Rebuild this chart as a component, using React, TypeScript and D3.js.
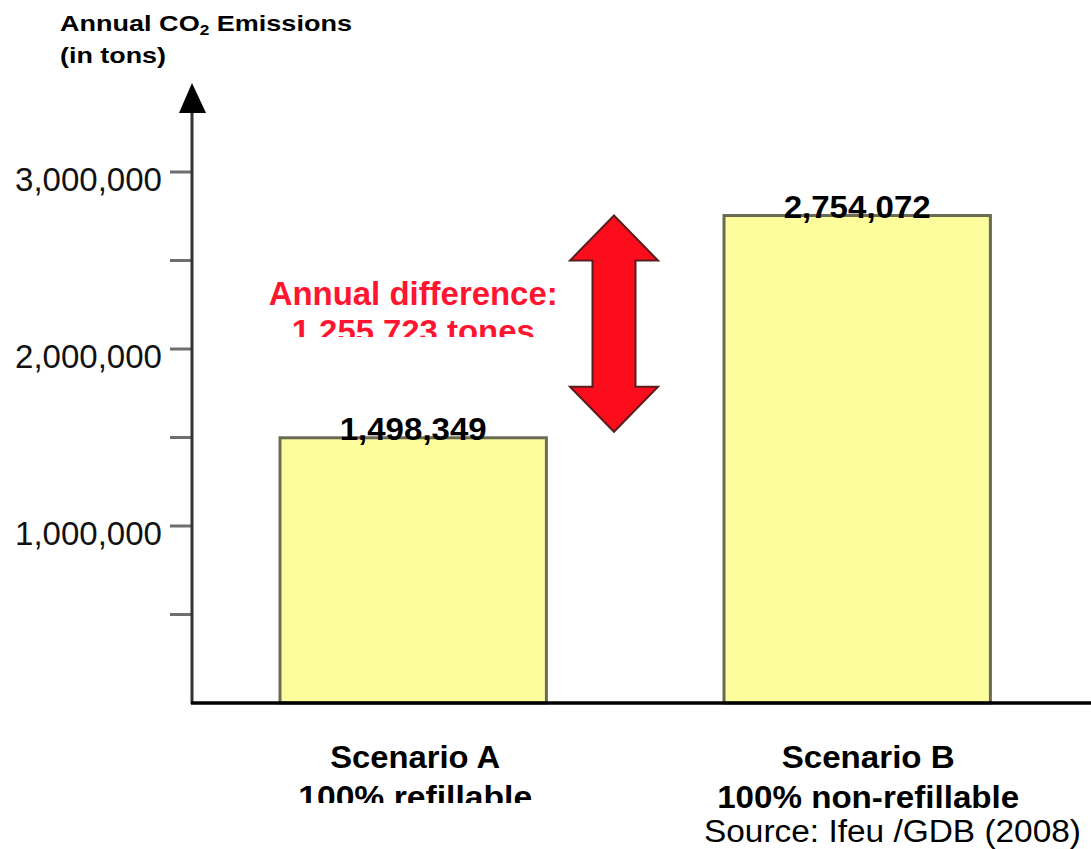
import * as d3 from "d3";
import { useEffect, useRef } from "react";

const categories = ["Scenario A", "Scenario B"];
const subtitles = ["100% refillable", "100% non-refillable"];
const values = [1498349, 2754072];
const valueLabels = ["1,498,349", "2,754,072"];
const majorTicks = [1000000, 2000000, 3000000];
const minorTicks = [500000, 1500000, 2500000];
const tickLabels = ["1,000,000", "2,000,000", "3,000,000"];
const diffLines = ["Annual difference:", "1.255.723 tones"];
const sourceText = "Source: Ifeu /GDB (2008)";

const FONT = "'Liberation Sans', Arial, Helvetica, sans-serif";

export default function App() {
  const ref = useRef<SVGSVGElement>(null);

  useEffect(() => {
    const svg = d3.select(ref.current);
    svg.selectAll("*").remove();

    const width = 1091;
    const height = 849;
    const axisX = 192;
    const baseY = 703;

    svg.attr("width", width).attr("height", height).style("font-family", FONT);

    const y = d3.scaleLinear().domain([0, 3000000]).range([baseY, 172]);
    const x = d3.scaleBand()
      .domain(categories)
      .range([235.6, 1034.8])
      .paddingInner(0.4)
      .paddingOuter(0.1);

    const defs = svg.append("defs");
    // the source image cuts off the second lines of some labels
    defs.append("clipPath").attr("id", "clip-diff")
      .append("rect").attr("x", 0).attr("y", 0).attr("width", width).attr("height", 337);
    defs.append("clipPath").attr("id", "clip-sub-a")
      .append("rect").attr("x", 0).attr("y", 0).attr("width", width).attr("height", 803);

    // title
    const title = svg.append("text")
      .attr("x", 60).attr("y", 31)
      .attr("font-size", 22).attr("font-weight", "bold")
      .attr("textLength", 292).attr("lengthAdjust", "spacingAndGlyphs");
    title.append("tspan").text("Annual CO");
    title.append("tspan").attr("font-size", 14).attr("dy", 4).text("2");
    title.append("tspan").attr("dy", -4).text(" Emissions");

    svg.append("text")
      .attr("x", 60).attr("y", 63)
      .attr("font-size", 22).attr("font-weight", "bold")
      .attr("textLength", 106).attr("lengthAdjust", "spacingAndGlyphs")
      .text("(in tons)");

    // bars
    svg.selectAll("rect.bar")
      .data(values)
      .join("rect")
      .attr("class", "bar")
      .attr("x", (d, i) => x(categories[i])!)
      .attr("y", d => y(d))
      .attr("width", x.bandwidth())
      .attr("height", d => baseY - y(d))
      .attr("fill", "#fdfd9d")
      .attr("stroke", "#6a6a55")
      .attr("stroke-width", 3);

    svg.selectAll("text.val")
      .data(values)
      .join("text")
      .attr("class", "val")
      .attr("x", (d, i) => x(categories[i])! + x.bandwidth() / 2)
      .attr("y", d => y(d) + 2)
      .attr("text-anchor", "middle")
      .attr("font-size", 32).attr("font-weight", "bold")
      .attr("textLength", 147).attr("lengthAdjust", "spacingAndGlyphs")
      .text((d, i) => valueLabels[i]);

    // y axis
    svg.selectAll("line.tick")
      .data([...majorTicks, ...minorTicks])
      .join("line")
      .attr("class", "tick")
      .attr("x1", 170).attr("x2", axisX)
      .attr("y1", d => y(d)).attr("y2", d => y(d))
      .attr("stroke", "#6e6e6e").attr("stroke-width", 3);

    svg.selectAll("text.ticklab")
      .data(majorTicks)
      .join("text")
      .attr("class", "ticklab")
      .attr("x", 162)
      .attr("y", d => y(d) + 19)
      .attr("text-anchor", "end")
      .attr("font-size", 33)
      .attr("fill", "#111")
      .attr("textLength", 147).attr("lengthAdjust", "spacingAndGlyphs")
      .text((d, i) => tickLabels[i]);

    svg.append("line")
      .attr("x1", axisX).attr("x2", axisX)
      .attr("y1", baseY + 1).attr("y2", 108)
      .attr("stroke", "#333").attr("stroke-width", 3);
    svg.append("path")
      .attr("d", `M${axisX},83 L${axisX - 13},113 L${axisX + 14},113 Z`)
      .attr("fill", "#000");

    // x axis
    svg.append("line")
      .attr("x1", axisX - 1).attr("x2", width)
      .attr("y1", baseY).attr("y2", baseY)
      .attr("stroke", "#000").attr("stroke-width", 3.5);

    // category labels
    const labelShift = [2, 11];
    svg.selectAll("text.cat")
      .data(categories)
      .join("text")
      .attr("class", "cat")
      .attr("x", (d, i) => x(d)! + x.bandwidth() / 2 + labelShift[i])
      .attr("y", 768)
      .attr("text-anchor", "middle")
      .attr("font-size", 31).attr("font-weight", "bold")
      .attr("textLength", (d, i) => [170, 173][i]).attr("lengthAdjust", "spacingAndGlyphs")
      .text(d => d);

    svg.selectAll("text.sub")
      .data(subtitles)
      .join("text")
      .attr("class", "sub")
      .attr("x", (d, i) => x(categories[i])! + x.bandwidth() / 2 + labelShift[i])
      .attr("y", 808)
      .attr("text-anchor", "middle")
      .attr("font-size", 31).attr("font-weight", "bold")
      .attr("textLength", (d, i) => [234, 302][i]).attr("lengthAdjust", "spacingAndGlyphs")
      .attr("clip-path", (d, i) => (i === 0 ? "url(#clip-sub-a)" : null))
      .text(d => d);

    svg.append("text")
      .attr("x", 704).attr("y", 842)
      .attr("font-size", 31)
      .attr("textLength", 377).attr("lengthAdjust", "spacingAndGlyphs")
      .text(sourceText);

    // difference annotation
    const diffX = x(categories[0])! + x.bandwidth() / 2;
    svg.selectAll("text.diff")
      .data(diffLines)
      .join("text")
      .attr("class", "diff")
      .attr("x", diffX)
      .attr("y", (d, i) => 305 + i * 37)
      .attr("text-anchor", "middle")
      .attr("font-size", (d, i) => (i === 0 ? 33 : 32))
      .attr("font-weight", "bold")
      .attr("fill", "#ff1530")
      .attr("textLength", (d, i) => [289, 243][i]).attr("lengthAdjust", "spacingAndGlyphs")
      .attr("clip-path", (d, i) => (i === 1 ? "url(#clip-diff)" : null))
      .text(d => d);

    const ax = 614;
    const top = y(values[1]);
    const bottom = y(values[0]) - 6;
    const headH = 45;
    const headW = 44;
    const shaftW = 21.5;
    const arrow = d3.path();
    arrow.moveTo(ax, top);
    arrow.lineTo(ax + headW, top + headH);
    arrow.lineTo(ax + shaftW, top + headH);
    arrow.lineTo(ax + shaftW, bottom - headH);
    arrow.lineTo(ax + headW, bottom - headH);
    arrow.lineTo(ax, bottom);
    arrow.lineTo(ax - headW, bottom - headH);
    arrow.lineTo(ax - shaftW, bottom - headH);
    arrow.lineTo(ax - shaftW, top + headH);
    arrow.lineTo(ax - headW, top + headH);
    arrow.closePath();
    svg.append("path")
      .attr("d", arrow.toString())
      .attr("fill", "#fc0d1b")
      .attr("stroke", "#5a1c1c")
      .attr("stroke-width", 2);
  }, []);

  return (
    <div style={{ position: "absolute", left: 0, top: 0 }}>
      <svg ref={ref} style={{ display: "block" }}></svg>
    </div>
  );
}
